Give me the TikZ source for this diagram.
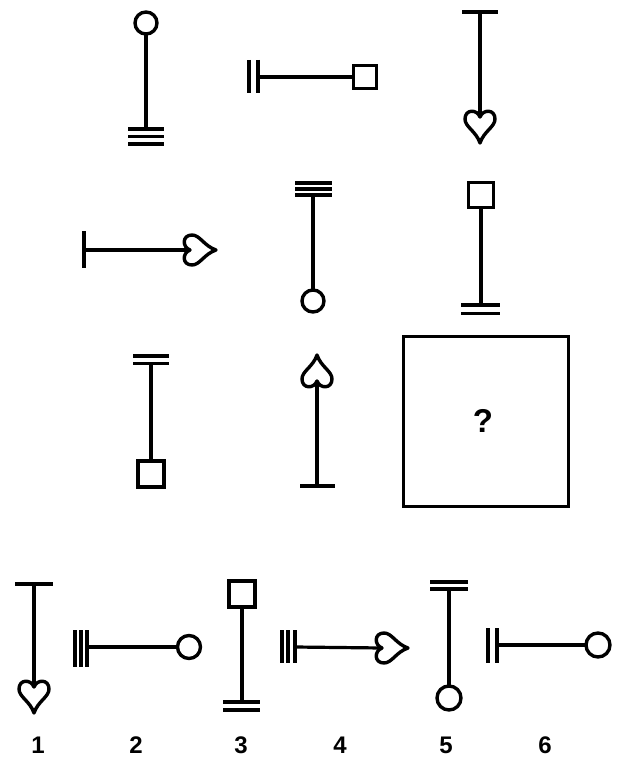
\documentclass[tikz,border=0pt]{standalone}
\usepackage{fontspec}
\setmainfont{Liberation Sans}
\begin{document}
\begin{tikzpicture}[x=1pt,y=-1pt,
  ln/.style={line width=3.2pt},
  bar/.style={line width=3.6pt},
  ring/.style={circle,draw,line width=3.4pt,minimum size=22pt,inner sep=0pt,outer sep=0pt},
  sq/.style={rectangle,draw,line width=3.4pt,minimum size=24pt,inner sep=0pt,outer sep=0pt},
  num/.style={font=\bfseries\fontsize{24}{24}\selectfont,inner sep=0pt},
  heart/.pic={\draw[line width=3.4pt,line join=round]
     (0,6) .. controls (3,-2) and (15,-2) .. (15,8)
     .. controls (15,16) and (4,20) .. (0,32)
     .. controls (-4,20) and (-15,16) .. (-15,8)
     .. controls (-15,-2) and (-3,-2) .. (0,6) -- cycle;
     \coordinate (-notch) at (0,6);}
]
\useasboundingbox (0,0) rectangle (624,762);
\fill[white] (0,0) rectangle (624,762);

% row 1
\node[ring] (c1) at (146,23) {};
\coordinate (b1) at (146,129);
\draw[ln] (c1) -- (b1);
\draw[bar] (128,129) -- (164,129) (128,136.5) -- (164,136.5) (128,144) -- (164,144);

\coordinate (t2) at (258,77);
\node[sq,minimum size=23pt] (s2) at (365,77) {};
\draw[ln] (t2) -- (s2);
\draw[bar] (249,60) -- (249,93) (258,60) -- (258,93);

\coordinate (t3) at (480,12);
\pic (h3) at (480,111) {heart};
\draw[ln] (t3) -- (h3-notch);
\draw[bar] (462,12) -- (498,12);

% row 2
\coordinate (t4) at (84,250);
\pic[rotate=90] (h4) at (184,250) {heart};
\draw[ln] (t4) -- (h4-notch);
\draw[bar] (84,231) -- (84,268);

\coordinate (t5) at (313,195);
\node[ring] (c5) at (313,301) {};
\draw[ln] (t5) -- (c5);
\draw[bar] (295,183) -- (332,183) (295,189) -- (332,189) (295,195) -- (332,195);

\node[sq,minimum size=25pt] (s6) at (481,195) {};
\coordinate (b6) at (481,305);
\draw[ln] (s6) -- (b6);
\draw[bar] (461,305) -- (500,305) (461,313.5) -- (500,313.5);

% row 3
\coordinate (t7) at (151,363.5);
\node[sq,minimum size=26pt] (s7) at (151,474) {};
\draw[ln] (t7) -- (s7);
\draw[bar] (133,356) -- (169,356) (133,363.5) -- (169,363.5);

\pic[rotate=180] (h8) at (317,387) {heart};
\coordinate (b8) at (317,486);
\draw[ln] (h8-notch) -- (b8);
\draw[bar] (300,486) -- (335,486);

\node[draw,line width=3.4pt,minimum width=165pt,minimum height=170pt,inner sep=0pt] (box) at (486,421.5) {};
\node[num,font=\bfseries\fontsize{33}{33}\selectfont] (qm) at (483,421) {?};

% answers
\coordinate (t9) at (34,584);
\pic (h9) at (34,681) {heart};
\draw[ln] (t9) -- (h9-notch);
\draw[bar] (15,584) -- (53,584);

\coordinate (t10) at (87,647);
\node[ring,minimum size=23pt] (c10) at (189,647) {};
\draw[ln] (t10) -- (c10);
\draw[bar] (75,630) -- (75,667) (81,630) -- (81,667) (87,630) -- (87,667);

\node[sq,minimum size=26pt] (s11) at (242,594) {};
\coordinate (b11) at (242,702);
\draw[ln] (s11) -- (b11);
\draw[bar] (223,702) -- (260,702) (223,710) -- (260,710);

\coordinate (t12) at (295,647);
\pic[rotate=90] (h12) at (376,648) {heart};
\draw[ln] (t12) -- (h12-notch);
\draw[bar] (282,630) -- (282,663) (288,630) -- (288,663) (295,630) -- (295,663);

\coordinate (t13) at (449,589);
\node[ring,minimum size=24pt] (c13) at (449,698) {};
\draw[ln] (t13) -- (c13);
\draw[bar] (430,582) -- (468,582) (430,589) -- (468,589);

\coordinate (t14) at (497,645);
\node[ring,minimum size=24pt] (c14) at (598,645) {};
\draw[ln] (t14) -- (c14);
\draw[bar] (488,628) -- (488,663) (497,628) -- (497,663);

\node[num] (n1) at (38,745) {1};
\node[num] (n2) at (136,745) {2};
\node[num] (n3) at (241,745) {3};
\node[num] (n4) at (340,745) {4};
\node[num] (n5) at (446,745) {5};
\node[num] (n6) at (545,745) {6};
\end{tikzpicture}
\end{document}
